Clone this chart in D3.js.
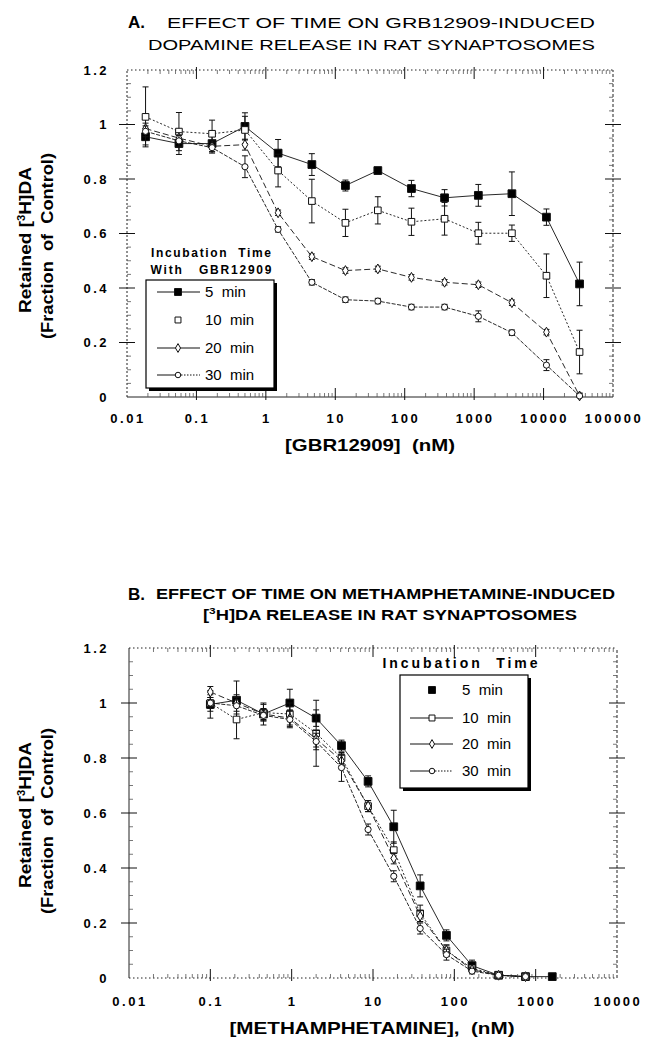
<!DOCTYPE html>
<html>
<head>
<meta charset="utf-8">
<title>Effect of time on dopamine release</title>
<style>
  body { margin: 0; background: #fff; }
  svg { display: block; font-family: "Liberation Sans", Arial, sans-serif; }
</style>
</head>
<body>
<svg width="648" height="1042" viewBox="0 0 648 1042"></svg>
<script src="https://d3js.org/d3.v7.min.js"></script>
<script>
// ---- data: panel A (GBR12909, nM) ----
const gbrDose = [0.0185, 0.056, 0.168, 0.5, 1.5, 4.6, 14, 41, 125, 375, 1150, 3500, 11000, 33000];
const gbr5 = [0.955, 0.93, 0.93, 0.993, 0.895, 0.853, 0.776, 0.831, 0.765, 0.731, 0.74, 0.746, 0.66, 0.415];
const gbr10 = [1.028, 0.974, 0.966, 0.98, 0.831, 0.719, 0.639, 0.685, 0.643, 0.654, 0.601, 0.601, 0.445, 0.165];
const gbr20 = [0.985, 0.95, 0.92, 0.926, 0.676, 0.515, 0.464, 0.47, 0.439, 0.421, 0.412, 0.346, 0.238, 0.004];
const gbr30 = [0.975, 0.94, 0.915, 0.845, 0.615, 0.421, 0.357, 0.352, 0.33, 0.33, 0.296, 0.236, 0.117, 0.004];
const gbrErr5 = [0.03, 0.04, 0.03, 0.05, 0.05, 0.04, 0.02, 0.01, 0.03, 0.03, 0.04, 0.08, 0.03, 0.08];
const gbrErr10 = [0.11, 0.07, 0.05, 0.05, 0.06, 0.08, 0.05, 0.05, 0.05, 0.06, 0.04, 0.03, 0.08, 0.08];
const gbrErr20 = [0.02, 0.02, 0.02, 0.02, 0.01, 0.01, 0.01, 0.01, 0.01, 0.01, 0.01, 0.01, 0.01, 0.01];
const gbrErr30 = [0.02, 0.02, 0.02, 0.04, 0.01, 0.01, 0.01, 0.01, 0.01, 0.01, 0.02, 0.01, 0.02, 0.01];

// ---- data: panel B (methamphetamine, nM) ----
const methDose = [0.1, 0.21, 0.45, 0.95, 2, 4.1, 8.7, 18, 38, 80, 165, 350, 750, 1600];
const meth5 = [0.995, 1.01, 0.96, 1.0, 0.945, 0.845, 0.715, 0.55, 0.335, 0.155, 0.045, 0.01, 0.005, 0.005];
const meth10 = [1.0, 0.94, 0.965, 0.96, 0.89, 0.8, 0.625, 0.465, 0.235, 0.1, 0.035, 0.01, 0.005];
const meth20 = [1.04, 1.0, 0.96, 0.945, 0.87, 0.79, 0.625, 0.435, 0.225, 0.1, 0.03, 0.01, 0.005];
const meth30 = [1.0, 0.99, 0.955, 0.94, 0.86, 0.765, 0.54, 0.37, 0.18, 0.085, 0.025, 0.01, 0.005];
const methErr5 = [0.05, 0.07, 0.04, 0.05, 0.03, 0.02, 0.02, 0.06, 0.04, 0.02, 0.02, 0.01, 0, 0];
const methErr10 = [0.03, 0.07, 0.03, 0.04, 0.12, 0.02, 0.02, 0.03, 0.03, 0.02, 0.01, 0, 0];
const methErr20 = [0.02, 0.03, 0.02, 0.03, 0.03, 0.02, 0.02, 0.02, 0.02, 0.02, 0.01, 0, 0];
const methErr30 = [0.02, 0.03, 0.02, 0.03, 0.03, 0.05, 0.02, 0.02, 0.02, 0.02, 0.01, 0, 0];

const seriesNames = ['5  min', '10  min', '20  min', '30  min'];
const yTickLabels = ['0', '0.2', '0.4', '0.6', '0.8', '1', '1.2'];
const xTickLabelsA = ['0.01', '0.1', '1', '10', '100', '1000', '10000', '100000'];
const xTickLabelsB = ['0.01', '0.1', '1', '10', '100', '1000', '10000'];

const svg = d3.select('svg');

const markerStyle = [
  { type: d3.symbolSquare, size: 60, fill: '#000', dash: null },
  { type: d3.symbolSquare, size: 44, fill: '#fff', dash: '2,2' },
  { type: d3.symbolDiamond, size: 28, fill: '#fff', dash: '6,3' },
  { type: d3.symbolCircle, size: 30, fill: '#fff', dash: '4,1.5' }
];

function drawPanel (p) {
  const g = svg.append('g');
  const x = p.x, y = p.y;
  const [x0, x1] = x.range();
  const [y0, y1] = y.range();

  // frame lines (scanned look: some dotted)
  const frame = [
    { a: [x0, y0, x0, y1], dash: p.leftDash },
    { a: [x0, y0, x1, y0], dash: p.bottomDash },
    { a: [x0, y1, x1, y1], dash: '1.5,2.5' },
    { a: [x1, y0, x1, y1], dash: '3,2' }
  ];
  g.selectAll('.frame').data(frame).join('line')
    .attr('x1', d => d.a[0]).attr('y1', d => d.a[1])
    .attr('x2', d => d.a[2]).attr('y2', d => d.a[3])
    .attr('stroke', '#222').attr('stroke-width', 1)
    .attr('stroke-dasharray', d => d.dash);

  // y ticks
  const yMajor = yTickLabels.map(Number);
  const yMinor = d3.range(0, 1.2001, 0.05).filter(v => Math.abs(v * 5 - Math.round(v * 5)) > 1e-6);
  [x0, x1].forEach((xx, side) => {
    g.selectAll(null).data(yMajor.slice(1, -1)).join('line')
      .attr('x1', xx - 8).attr('x2', xx + 8)
      .attr('y1', d => y(d)).attr('y2', d => y(d))
      .attr('stroke', '#111');
    g.selectAll(null).data(yMinor).join('line')
      .attr('x1', xx).attr('x2', side ? xx - 4 : xx + 4)
      .attr('y1', d => y(d)).attr('y2', d => y(d))
      .attr('stroke', '#555').attr('stroke-width', 0.8);
  });

  // x ticks (log decades + minor)
  const decades = p.xTickLabels.map(Number);
  const minors = [];
  decades.slice(0, -1).forEach(d => { for (let k = 2; k <= 9; k++) minors.push(d * k); });
  [y0, y1].forEach((yy, side) => {
    g.selectAll(null).data(decades.slice(1, -1)).join('line')
      .attr('x1', d => x(d)).attr('x2', d => x(d))
      .attr('y1', side ? yy - 3 : yy - 9).attr('y2', side ? yy + 9 : yy + 3)
      .attr('stroke', '#111');
    g.selectAll(null).data(minors).join('line')
      .attr('x1', d => x(d)).attr('x2', d => x(d))
      .attr('y1', yy).attr('y2', side ? yy + 4 : yy - 4)
      .attr('stroke', '#555').attr('stroke-width', 0.8);
  });

  // tick labels
  g.selectAll(null).data(yTickLabels).join('text')
    .attr('x', 109).attr('y', d => y(+d))
    .attr('dy', '0.35em').attr('text-anchor', 'end')
    .attr('font-size', 13).attr('font-weight', 'bold')
    .attr('letter-spacing', 2.5)
    .text(d => d);
  g.selectAll(null).data(p.xTickLabels).join('text')
    .attr('x', d => x(+d) + 1).attr('y', p.xLabelY)
    .attr('dy', '0.35em').attr('text-anchor', 'middle')
    .attr('font-size', 13).attr('font-weight', 'bold')
    .attr('letter-spacing', 2.5)
    .text(d => d);

  // axis titles
  g.append('text')
    .attr('x', p.xTitle[0] - p.xTitleLen / 2).attr('y', p.xTitle[1])
    .attr('font-size', 17).attr('font-weight', 'bold')
    .attr('textLength', p.xTitleLen).attr('lengthAdjust', 'spacingAndGlyphs')
    .attr('xml:space', 'preserve')
    .text(p.xTitleText);
  const yt1 = g.append('text')
    .attr('transform', `translate(25,${p.yTitleY}) rotate(-90)`)
    .attr('x', -73).attr('dy', '0.35em')
    .attr('font-size', 17).attr('font-weight', 'bold')
    .attr('textLength', 146).attr('lengthAdjust', 'spacingAndGlyphs');
  yt1.append('tspan').text('Retained  [');
  yt1.append('tspan').attr('font-size', 10).attr('dy', -6).text('3');
  yt1.append('tspan').attr('dy', 6).text('H]DA');
  g.append('text')
    .attr('transform', `translate(47,${p.yTitleY + 6}) rotate(-90)`)
    .attr('x', -93).attr('dy', '0.35em')
    .attr('font-size', 17).attr('font-weight', 'bold')
    .attr('textLength', 186).attr('lengthAdjust', 'spacingAndGlyphs')
    .attr('xml:space', 'preserve')
    .text('(Fraction  of  Control)');

  // titles
  p.titles.forEach(t => {
    const tx = g.append('text')
      .attr('x', t.x).attr('y', t.y)
      .attr('font-size', t.size).attr('font-weight', t.weight)
      .attr('xml:space', 'preserve');
    if (t.len) tx.attr('textLength', t.len).attr('lengthAdjust', 'spacingAndGlyphs');
    t.parts.forEach(part => {
      const s = tx.append('tspan').text(part.text);
      if (part.size) s.attr('font-size', part.size);
      if (part.dy) s.attr('dy', part.dy);
      if (part.weight) s.attr('font-weight', part.weight);
    });
  });

  // series
  p.series.forEach((s, i) => {
    const st = markerStyle[i];
    const pts = s.vals.map((v, j) => ({ x: p.dose[j], y: v, e: s.err[j] }));
    const line = d3.line().x(d => x(d.x)).y(d => y(d.y));
    g.append('path').datum(pts)
      .attr('d', line).attr('fill', 'none')
      .attr('stroke', '#111').attr('stroke-width', 0.9)
      .attr('stroke-dasharray', st.dash);
    const eb = g.append('g');
    pts.filter(d => d.e > 0.005).forEach(d => {
      const cx = x(d.x);
      eb.append('line').attr('x1', cx).attr('x2', cx)
        .attr('y1', y(d.y + d.e)).attr('y2', y(Math.max(0, d.y - d.e)));
      eb.append('line').attr('x1', cx - 3).attr('x2', cx + 3)
        .attr('y1', y(d.y + d.e)).attr('y2', y(d.y + d.e));
      eb.append('line').attr('x1', cx - 3).attr('x2', cx + 3)
        .attr('y1', y(Math.max(0, d.y - d.e))).attr('y2', y(Math.max(0, d.y - d.e)));
    });
    eb.selectAll('line').attr('stroke', '#111').attr('stroke-width', 1);
    g.selectAll(null).data(pts).join('path')
      .attr('transform', d => `translate(${x(d.x)},${y(d.y)})`)
      .attr('d', d3.symbol().type(st.type).size(st.size))
      .attr('fill', st.fill).attr('stroke', '#111').attr('stroke-width', 1);
  });

  // legend
  const L = p.legend;
  L.head.forEach(h => {
    g.append('text').attr('x', L.cx).attr('y', h.y)
      .attr('text-anchor', 'middle').attr('font-size', h.size || 12).attr('font-weight', 'bold')
      .attr('textLength', h.len).attr('lengthAdjust', 'spacing')
      .attr('xml:space', 'preserve')
      .text(h.text);
  });
  g.append('rect').attr('x', L.box[0] + 3).attr('y', L.box[1] + 3)
    .attr('width', L.box[2]).attr('height', L.box[3]).attr('fill', '#000');
  g.append('rect').attr('x', L.box[0]).attr('y', L.box[1])
    .attr('width', L.box[2]).attr('height', L.box[3])
    .attr('fill', '#fff').attr('stroke', '#000').attr('stroke-width', 1.2);
  seriesNames.forEach((name, i) => {
    const st = markerStyle[i];
    const yy = L.rows[i];
    const ls = L.lineStyle[i];
    if (ls !== 'none') {
      g.append('line').attr('x1', L.line[0]).attr('x2', L.mark)
        .attr('y1', yy).attr('y2', yy).attr('stroke', '#111');
      g.append('line').attr('x1', L.mark).attr('x2', L.line[1])
        .attr('y1', yy).attr('y2', yy).attr('stroke', '#111')
        .attr('stroke-dasharray', ls === 'dot' ? '1.5,1.5' : null);
    }
    g.append('path')
      .attr('transform', `translate(${L.mark},${yy})`)
      .attr('d', d3.symbol().type(st.type).size(st.size * 0.8))
      .attr('fill', st.fill).attr('stroke', '#111');
    g.append('text').attr('x', L.textX).attr('y', yy).attr('dy', '0.36em')
      .attr('font-size', L.font).attr('xml:space', 'preserve')
      .text(name);
  });
}

drawPanel({
  x: d3.scaleLog().domain([0.01, 100000]).range([127, 613]),
  y: d3.scaleLinear().domain([0, 1.2]).range([397, 70]),
  xTickLabels: xTickLabelsA,
  xLabelY: 418,
  leftDash: '2,2',
  bottomDash: null,
  xTitle: [370, 451],
  xTitleLen: 170,
  xTitleText: '[GBR12909]  (nM)',
  yTitleY: 240,
  dose: gbrDose,
  series: [
    { vals: gbr5, err: gbrErr5 },
    { vals: gbr10, err: gbrErr10 },
    { vals: gbr20, err: gbrErr20 },
    { vals: gbr30, err: gbrErr30 }
  ],
  titles: [
    { x: 128, y: 28, size: 17, weight: 'bold', parts: [{ text: 'A.' }] },
    { x: 167, y: 28, size: 15, weight: 'normal', len: 428,
      parts: [{ text: 'EFFECT OF TIME ON GRB12909-INDUCED' }] },
    { x: 148, y: 50, size: 15, weight: 'normal', len: 447,
      parts: [{ text: 'DOPAMINE RELEASE IN RAT SYNAPTOSOMES' }] }
  ],
  legend: {
    cx: 211,
    head: [
      { text: 'Incubation  Time', y: 257, len: 120 },
      { text: 'With   GBR12909', y: 274, len: 121 }
    ],
    box: [146, 280, 128, 108],
    rows: [292, 320, 348, 375],
    line: [157, 200],
    mark: 178,
    textX: 205,
    font: 15,
    lineStyle: ['solid', 'none', 'solid', 'dot']
  }
});

drawPanel({
  x: d3.scaleLog().domain([0.01, 10000]).range([129, 617]),
  y: d3.scaleLinear().domain([0, 1.2]).range([978, 648]),
  xTickLabels: xTickLabelsB,
  xLabelY: 1001,
  leftDash: null,
  bottomDash: '1.5,2.5',
  xTitle: [372, 1034],
  xTitleLen: 285,
  xTitleText: '[METHAMPHETAMINE],  (nM)',
  yTitleY: 815,
  dose: methDose,
  series: [
    { vals: meth5, err: methErr5 },
    { vals: meth10, err: methErr10 },
    { vals: meth20, err: methErr20 },
    { vals: meth30, err: methErr30 }
  ],
  titles: [
    { x: 128, y: 600, size: 17, weight: 'bold', parts: [{ text: 'B.' }] },
    { x: 156, y: 599, size: 14, weight: 'bold', len: 459,
      parts: [{ text: 'EFFECT OF TIME ON METHAMPHETAMINE-INDUCED' }] },
    { x: 203, y: 620, size: 14, weight: 'bold', len: 374,
      parts: [{ text: '[' }, { text: '3', size: 9, dy: -6 }, { text: 'H]DA RELEASE IN RAT SYNAPTOSOMES', dy: 6 }] }
  ],
  legend: {
    cx: 460,
    head: [
      { text: 'Incubation  Time', y: 668, len: 155, size: 14 }
    ],
    box: [400, 675, 128, 113],
    rows: [690, 718, 744, 771],
    line: [410, 453],
    mark: 432,
    textX: 462,
    font: 15,
    lineStyle: ['none', 'solid', 'solid', 'dot']
  }
});
</script>
</body>
</html>
